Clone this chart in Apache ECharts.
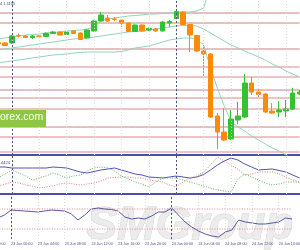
<!DOCTYPE html>
<html>
<head>
<meta charset="utf-8">
<script src="https://cdn.jsdelivr.net/npm/echarts/dist/echarts.min.js"></script>
<style>
  html, body { margin: 0; padding: 0; background: #fff; overflow: hidden; }
  /* the source picture is a crop: the plot starts a few bars left of the frame */
  #chart { position: absolute; left: -19px; top: 0; width: 322px; height: 250px; }
</style>
</head>
<body>
<div id="chart"></div>
<script>
// hourly bars, 22 Jun 20:00 .. 24 Jun 18:00
const categories = [
    '22 Jun 20:00', '22 Jun 21:00', '22 Jun 22:00', '22 Jun 23:00',
    '23 Jun 00:00', '23 Jun 01:00', '23 Jun 02:00', '23 Jun 03:00', '23 Jun 04:00', '23 Jun 05:00',
    '23 Jun 06:00', '23 Jun 07:00', '23 Jun 08:00', '23 Jun 09:00', '23 Jun 10:00', '23 Jun 11:00',
    '23 Jun 12:00', '23 Jun 13:00', '23 Jun 14:00', '23 Jun 15:00', '23 Jun 16:00', '23 Jun 17:00',
    '23 Jun 18:00', '23 Jun 19:00', '23 Jun 20:00', '23 Jun 21:00', '23 Jun 22:00', '23 Jun 23:00',
    '24 Jun 00:00', '24 Jun 01:00', '24 Jun 02:00', '24 Jun 03:00', '24 Jun 04:00', '24 Jun 05:00',
    '24 Jun 06:00', '24 Jun 07:00', '24 Jun 08:00', '24 Jun 09:00', '24 Jun 10:00', '24 Jun 11:00',
    '24 Jun 12:00', '24 Jun 13:00', '24 Jun 14:00', '24 Jun 15:00', '24 Jun 16:00', '24 Jun 17:00',
    '24 Jun 18:00',
]

// [open, close, low, high]
const ohlc = [
    '-', '-',
    [1.13068, 1.13012, 1.12975, 1.13123],
    [1.13049, 1.12957, 1.12938, 1.13086],
    [1.13049, 1.13308, 1.13012, 1.13345],
    [1.13327, 1.13308, 1.13253, 1.13401],
    [1.13308, 1.13253, 1.13234, 1.13345],
    [1.13253, 1.13308, 1.13197, 1.13345],
    [1.13308, 1.13297, 1.13278, 1.13327],
    [1.13290, 1.13408, 1.13271, 1.13438],
    [1.13401, 1.13456, 1.13382, 1.13493],
    [1.13456, 1.13345, 1.13327, 1.13475],
    [1.13364, 1.13456, 1.13345, 1.13493],
    [1.13493, 1.13401, 1.13382, 1.13512],
    [1.13419, 1.13179, 1.13160, 1.13438],
    [1.13234, 1.13530, 1.13216, 1.13567],
    [1.13493, 1.13863, 1.13475, 1.13900],
    [1.13863, 1.14085, 1.13845, 1.14196],
    [1.13974, 1.13863, 1.13826, 1.14085],
    [1.13937, 1.13926, 1.13863, 1.14011],
    [1.13900, 1.13789, 1.13641, 1.13918],
    [1.13789, 1.13475, 1.13456, 1.13808],
    [1.13475, 1.13715, 1.13456, 1.13734],
    [1.13715, 1.13493, 1.13475, 1.13734],
    [1.13530, 1.13586, 1.13493, 1.13623],
    [1.13567, 1.13493, 1.13475, 1.13604],
    [1.13493, 1.13826, 1.13475, 1.13863],
    [1.13789, 1.13845, 1.13641, 1.13900],
    [1.13955, 1.14215, 1.13937, 1.14270],
    [1.14196, 1.13734, 1.13715, 1.14215],
    [1.13734, 1.13345, 1.12716, 1.13752],
    [1.13327, 1.12753, 1.12716, 1.13345],
    [1.12753, 1.12642, 1.11828, 1.12975],
    [1.12642, 1.10311, 1.10274, 1.12679],
    [1.10348, 1.09756, 1.09127, 1.10459],
    [1.09756, 1.09460, 1.09423, 1.10644],
    [1.09497, 1.10237, 1.09460, 1.10570],
    [1.10200, 1.10348, 1.10052, 1.10866],
    [1.10311, 1.11569, 1.10274, 1.11902],
    [1.11569, 1.11236, 1.11125, 1.11791],
    [1.11236, 1.11143, 1.11014, 1.11384],
    [1.11162, 1.10496, 1.10459, 1.11199],
    [1.10533, 1.10459, 1.10422, 1.10829],
    [1.10496, 1.10570, 1.10311, 1.10903],
    [1.10533, 1.10607, 1.10311, 1.10940],
    [1.10607, 1.11199, 1.10570, 1.11384],
    [1.11162, 1.11236, 1.11125, 1.11310],
]

// bollinger bands
const bbUpper = [
    '-', '-',
    1.13197, 1.13234, 1.13271, 1.13308, 1.13345, 1.13364, 1.13382, 1.13419,
    1.13438, 1.13456, 1.13493, 1.13512, 1.13530, 1.13567, 1.13641, 1.13863,
    1.13937, 1.13974, 1.14011, 1.14048, 1.14067, 1.14085, 1.14122, 1.14122,
    1.14140, 1.14159, 1.14178, 1.14196, 1.14196, 1.14233, 1.14344, 1.15195,
    '-', '-', '-', '-', '-', '-', '-', '-', '-', '-', '-', '-', '-',
]
const bbMiddle = [
    '-', '-',
    1.12790, 1.12827, 1.12864, 1.12901, 1.12938, 1.12975, 1.13012, 1.13049,
    1.13086, 1.13123, 1.13160, 1.13197, 1.13216, 1.13234, 1.13271, 1.13308,
    1.13345, 1.13382, 1.13419, 1.13456, 1.13475, 1.13493, 1.13530, 1.13567,
    1.13604, 1.13641, 1.13678, 1.13697, 1.13697, 1.13678, 1.13567, 1.13419,
    1.13271, 1.13123, 1.12975, 1.12864, 1.12753, 1.12642, 1.12531, 1.12420,
    1.12272, 1.12161, 1.12013, 1.11902, 1.11791,
]
const bbLower = [
    '-', '-',
    1.12327, 1.12346, 1.12383, 1.12420, 1.12457, 1.12494, 1.12531, 1.12568,
    1.12605, 1.12623, 1.12642, 1.12679, 1.12698, 1.12716, 1.12716, 1.12716,
    1.12716, 1.12716, 1.12735, 1.12790, 1.12864, 1.12901, 1.12938, 1.13012,
    1.13086, 1.13160, 1.13197, 1.13234, 1.13234, 1.13197, 1.12975, 1.12124,
    1.11384, 1.10718, 1.10163, 1.09941, 1.09793, 1.09608, 1.09460, 1.09312,
    1.09164, 1.09053, 1.08905, 1.08794, 1.08683,
]

// horizontal price levels
const majorLevels = [1.14159, 1.13789, 1.12827, 1.11310, 1.09940]
const minorLevels = [1.12161, 1.11791, 1.11014, 1.10607, 1.09570, 1.09016]

// day separators
const separators = ['23 Jun 00:00', '24 Jun 00:00']

// ADX(14) with +DI / -DI
const adx = [
    '-', '-',
    45.5, 45.5, 44, 44, 44, 44, 44, 44, 45.5, 44.8, 44, 41, 38, 36.5, 38.8,
    41, 42.5, 44, 41, 38, 35, 33.5, 30.5, 29.8, 29, 30.5, 32, 30.5, 29, 30.5,
    34.3, 41, 48.5, 54.5, 59, 56, 50, 45.5, 41, 41.8, 42.5, 40.3, 38, 33.5, 29,
]
const plusDI = [
    '-', '-',
    29, 35, 41, 36.5, 32, 26, 29, 32, 36.5, 33.5, 29, 32, 33.5, 39.5, 44,
    45.5, 44, 39.5, 32, 27.5, 23, 20, 15.5, 23, 29, 29, 29, 26, 23, 20,
    17, 14, 11, 9.5, 8, 27.5, 35, 30.5, 26, 21.5, 18.5, 20, 23, 23, 23,
]
const minusDI = [
    '-', '-',
    17, 20, 23, 21.5, 18.5, 17, 14, 15.5, 17, 20, 21.5, 20, 18.5, 20, 21.5,
    24.5, 29, 29.8, 30.5, 30.5, 29, 29, 26, 24.5, 23, 18.5, 15.5, 23, 29, 32,
    38, 48.5, 60.5, 54.5, 48.5, 42.5, 33.5, 35, 38, 38, 38, 35, 30.5, 26, 23,
]

// RSI(14)
const rsi = [
    '-', '-',
    52, 58, 68, 67, 66, 65, 64, 66, 68, 67, 66, 60, 48, 58, 70,
    72, 70, 69, 66, 54, 50, 52, 50, 56, 64, 64, 72, 58, 44, 34,
    26, 20, 16, 14, 24, 28, 48, 44, 42, 40, 40, 42, 44, 52, 50,
]
const rsiLevels = [70, 30]

const chart = echarts.init(document.getElementById('chart'))

// offset of the visible frame inside the (wider) chart div
const OX = 19

const gridTicks = categories.filter((c, i) => i % 4 === 0)

const gridStyle = { color: '#dcdcdc', type: [1, 2], width: 1 }
const sepStyle = { color: '#50557f', type: [2, 2], width: 1 }

const vLines = [
    ...gridTicks.map((c) => ({ xAxis: c, lineStyle: gridStyle })),
    ...separators.map((c) => ({ xAxis: c, lineStyle: sepStyle })),
]

// a flat level drawn as a plain line across every bar
const levelSeries = (value, gridIndex, lineStyle) => ({
    type: 'line',
    xAxisIndex: gridIndex,
    yAxisIndex: gridIndex,
    data: categories.map(() => value),
    symbol: 'none',
    silent: true,
    z: 1,
    lineStyle,
})

const paneX = (gridIndex, showLabels) => ({
    type: 'category',
    gridIndex,
    data: categories,
    boundaryGap: true,
    axisTick: { show: false },
    axisLine: showLabels
        ? { show: false }
        : { show: true, lineStyle: { color: '#4b4fa6', width: 2 } },
    axisLabel: showLabels
        ? {
              show: true,
              interval: 3,
              align: 'left',
              fontSize: 3.7,
              margin: 3,
              color: '#4a4f8f',
              fontFamily: 'Liberation Sans',
          }
        : { show: false },
    splitLine: { show: false },
})

const hiddenY = (gridIndex, min, max) => ({
    type: 'value',
    gridIndex,
    min,
    max,
    axisLabel: { show: false },
    axisLine: { show: false },
    axisTick: { show: false },
    splitLine: { show: false },
})

const markCommon = {
    silent: true,
    symbol: 'none',
    label: { show: false },
    animation: false,
}

chart.setOption({
    animation: false,
    backgroundColor: '#ffffff',
    grid: [
        { left: 0, right: 0, top: 0, height: 155 },
        { left: 0, right: 0, top: 156, height: 38 },
        { left: 0, right: 0, top: 196, height: 43 },
    ],
    xAxis: [paneX(0, false), paneX(1, false), paneX(2, true)],
    yAxis: [
        hiddenY(0, 1.08905, 1.1464),
        hiddenY(1, 5, 62),
        hiddenY(2, 10, 96),
    ],
    graphic: [
        {
            type: 'text',
            z: 0,
            left: OX + 86,
            top: 203,
            style: {
                text: 'SMGroup',
                font: 'italic bold 46px "Liberation Sans"',
                fill: '#ececec',
                stroke: '#cfcfcf',
                lineWidth: 0.8,
            },
        },
        {
            type: 'rect',
            z: 10,
            shape: { x: OX, y: 110, width: 46, height: 17 },
            style: { fill: '#8dc63f' },
        },
        {
            type: 'text',
            z: 11,
            left: OX,
            top: 112,
            style: {
                text: 'orex.com',
                font: '10.5px "Liberation Sans"',
                fill: '#ffffff',
            },
        },
        {
            type: 'text',
            z: 11,
            left: OX,
            top: 1.5,
            style: { text: '4 1.1105', font: '4px "Liberation Sans"', fill: '#3c4070' },
        },
        {
            type: 'text',
            z: 11,
            left: OX,
            top: 161,
            style: { text: '.4424', font: '4px "Liberation Sans"', fill: '#3c4070' },
        },
    ],
    series: [
        ...minorLevels.map((v) => levelSeries(v, 0, { color: '#e8b0b0', width: 1.6 })),
        ...majorLevels.map((v) => levelSeries(v, 0, { color: '#cc8080', width: 1 })),
        {
            name: 'BB upper',
            type: 'line',
            xAxisIndex: 0,
            yAxisIndex: 0,
            data: bbUpper,
            symbol: 'none',
            z: 2,
            lineStyle: { color: '#93d3b8', width: 1 },
        },
        {
            name: 'BB middle',
            type: 'line',
            xAxisIndex: 0,
            yAxisIndex: 0,
            data: bbMiddle,
            symbol: 'none',
            z: 2,
            lineStyle: { color: '#93d3b8', width: 1 },
            // grid lines and day separators of the main pane
            markLine: { ...markCommon, data: vLines },
        },
        {
            name: 'BB lower',
            type: 'line',
            xAxisIndex: 0,
            yAxisIndex: 0,
            data: bbLower,
            symbol: 'none',
            z: 2,
            lineStyle: { color: '#93d3b8', width: 1 },
        },
        {
            name: 'EURUSD',
            type: 'candlestick',
            xAxisIndex: 0,
            yAxisIndex: 0,
            data: ohlc,
            barWidth: 5,
            z: 3,
            itemStyle: {
                color: '#35c135',
                color0: '#ff8a0a',
                borderColor: '#35c135',
                borderColor0: '#ff8a0a',
                borderWidth: 1,
            },
        },
        // ADX pane
        {
            name: 'ADX',
            type: 'line',
            xAxisIndex: 1,
            yAxisIndex: 1,
            data: adx,
            symbol: 'none',
            lineStyle: { color: '#5252b8', width: 1 },
            markLine: { ...markCommon, data: vLines },
        },
        {
            name: '+DI',
            type: 'line',
            xAxisIndex: 1,
            yAxisIndex: 1,
            data: plusDI,
            symbol: 'none',
            lineStyle: { color: '#58b558', width: 1, type: [1, 1.5] },
        },
        {
            name: '-DI',
            type: 'line',
            xAxisIndex: 1,
            yAxisIndex: 1,
            data: minusDI,
            symbol: 'none',
            lineStyle: { color: '#e07a7a', width: 1, type: [1, 1.5] },
        },
        // RSI pane
        ...rsiLevels.map((v) => levelSeries(v, 2, { color: '#e08a8a', width: 1, type: [1, 1.5] })),
        {
            name: 'RSI',
            type: 'line',
            xAxisIndex: 2,
            yAxisIndex: 2,
            data: rsi,
            symbol: 'none',
            lineStyle: { color: '#5a5a9e', width: 1 },
            markLine: { ...markCommon, data: vLines },
        },
    ],
})
</script>
</body>
</html>
